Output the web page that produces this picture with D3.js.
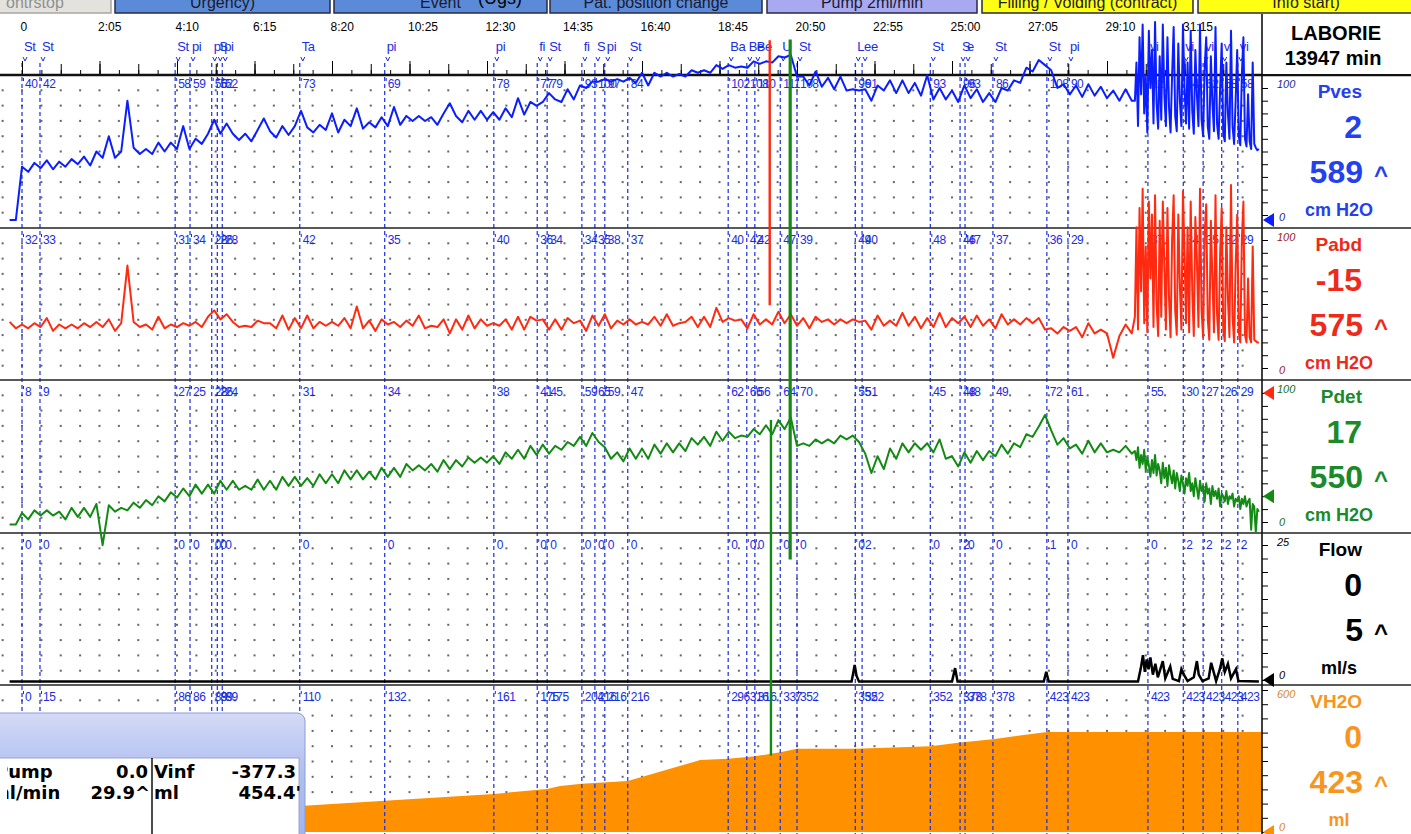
<!DOCTYPE html>
<html>
<head>
<meta charset="utf-8">
<script src="https://cdn.jsdelivr.net/npm/d3@7"></script>
<style>
  body { margin: 0; background: #fff; }
  svg { display: block; font-family: "Liberation Sans", Arial, sans-serif; }
</style>
</head>
<body>
<script>
// time axis (seconds)
const timeTickValues = [0, 125, 250, 375, 500, 625, 750, 875, 1000, 1125, 1250, 1375, 1500, 1625, 1750, 1875];
const timeTickLabels = ['0', '2:05', '4:10', '6:15', '8:20', '10:25', '12:30', '14:35', '16:40', '18:45', '20:50', '22:55', '25:00', '27:05', '29:10', '31:15'];

// events
const eventTimes = [0, 29, 247, 271, 306, 315, 323, 448, 585, 761, 831, 847, 903, 924, 940, 977, 1139, 1169, 1182, 1223, 1250, 1344, 1355, 1465, 1513, 1521, 1566, 1653, 1687, 1816, 1873, 1905, 1935, 1961];
const eventNames = ['St', 'St', 'St', 'pi', 'pi', 'S', 'pi', 'Ta', 'pi', 'pi', 'fi', 'St', 'fi', 'S', 'pi', 'St', 'Ba', 'Be', 'Be', 'U', 'St', 'L', 'ee', 'St', 'S', 'e', 'St', 'St', 'pi', 'vi', 'vi', 'vi', 'vi', 'vi'];
const pvesAtEvent = [40, 42, 58, 59, 56, 52, 52, 73, 69, 78, 77, 79, 93, 100, 97, 84, 102, 108, 110, 111, 108, 96, 91, 93, 96, 93, 86, 108, 90, 92, 64, 62, 58, 58];
const pabdAtEvent = [32, 33, 31, 34, 28, 26, 28, 42, 35, 40, 36, 34, 34, 35, 38, 37, 40, 42, 42, 47, 39, 49, 40, 48, 46, 47, 37, 36, 29, 37, 34, 35, 32, 29];
const pdetAtEvent = [8, 9, 27, 25, 28, 26, 24, 31, 34, 38, 41, 45, 59, 65, 59, 47, 62, 66, 56, 64, 70, 55, 51, 45, 48, 48, 49, 72, 61, 55, 30, 27, 26, 29];
const flowAtEvent = [0, 0, 0, 0, 0, 0, 0, 0, 0, 0, 0, 0, 0, 0, 0, 0, 0, 0, 0, 0, 0, 0, 2, 0, 2, 0, 0, 1, 0, 0, 2, 2, 2, 2];
const volAtEvent = [0, 15, 86, 86, 89, 89, 89, 110, 132, 161, 175, 175, 204, 216, 216, 216, 296, 316, 316, 337, 352, 352, 352, 352, 378, 378, 378, 423, 423, 423, 423, 423, 423, 423];

// pressure samples: every 10 s from -20 s, then every 2.5 s from 1795 s
const mainStart = -20, mainStep = 10;
const burstStart = 1795, burstStep = 2.5;

const pvesMain = [
  -4, -4, 38, 34, 41, 37, 43, 36, 42, 38,
  44, 40, 46, 39, 50, 45, 62, 45, 50, 90,
  53, 48, 52, 48, 57, 50, 57, 52, 70, 52,
  60, 56, 64, 75, 64, 72, 64, 59, 64, 58,
  67, 76, 66, 61, 70, 63, 70, 82, 69, 65,
  71, 67, 80, 65, 75, 70, 84, 68, 73, 69,
  77, 70, 85, 71, 78, 74, 78, 74, 77, 71,
  80, 88, 78, 73, 82, 75, 82, 75, 81, 75,
  84, 77, 92, 79, 89, 86, 89, 96, 91, 89,
  99, 91, 102, 100, 105, 105, 107, 105, 107, 105,
  108, 104, 112, 102, 112, 109, 112, 109, 111, 109,
  114, 112, 114, 112, 118, 115, 118, 116, 117, 116,
  121, 119, 121, 120, 125, 124, 126, 109, 109, 102,
  113, 101, 108, 99, 109, 98, 99, 98, 99, 90,
  102, 98, 106, 96, 106, 96, 104, 94, 110, 91,
  100, 91, 98, 89, 102, 92, 99, 89, 96, 89,
  100, 98, 106, 104, 116, 113, 122, 118, 114, 100,
  103, 95, 102, 93, 103, 94, 101, 92, 98, 90,
  99, 90
];
const pvesBurst = [
  90, 120, 70, 140, 95, 150, 80, 110, 65, 145,
  100, 130, 72, 152, 88, 68, 125, 75, 150, 95,
  70, 140, 85, 65, 110, 148, 78, 66, 135, 90,
  70, 150, 100, 72, 120, 68, 145, 82, 64, 130,
  95, 70, 150, 75, 62, 115, 140, 70, 60, 125,
  88, 66, 148, 72, 60, 100, 135, 64, 58, 120,
  80, 60, 145, 70, 56, 90, 130, 62, 55, 110,
  140, 60, 54, 95, 58, 52, 120, 56, 53, 51,
  52
];

const pabdMain = [
  36, 31, 34, 31, 35, 32, 39, 29, 34, 31,
  34, 31, 35, 32, 36, 32, 38, 29, 35, 80,
  36, 32, 34, 30, 40, 31, 34, 32, 35, 33,
  36, 32, 40, 45, 38, 42, 36, 32, 33, 32,
  37, 35, 35, 31, 41, 30, 39, 31, 41, 31,
  36, 33, 36, 33, 39, 31, 48, 31, 37, 29,
  38, 34, 36, 32, 37, 33, 41, 31, 33, 32,
  38, 27, 38, 30, 41, 31, 38, 33, 35, 33,
  38, 30, 40, 30, 40, 37, 38, 30, 38, 30,
  39, 35, 37, 29, 41, 33, 42, 31, 37, 34,
  38, 34, 36, 34, 40, 33, 42, 33, 35, 36,
  40, 32, 40, 32, 47, 36, 39, 37, 38, 31,
  42, 34, 38, 34, 44, 35, 42, 33, 39, 31,
  40, 36, 38, 34, 38, 35, 38, 36, 37, 30,
  41, 33, 37, 33, 43, 33, 40, 31, 39, 32,
  43, 32, 39, 35, 40, 32, 41, 33, 38, 31,
  42, 34, 38, 34, 39, 35, 39, 30, 31, 27,
  32, 29, 32, 24, 35, 27, 30, 27, 8, 25,
  34, 27
];
const pabdBurst = [
  40, 110, 30, 125, 60, 140, 35, 95, 28, 130,
  70, 120, 32, 135, 50, 25, 115, 40, 130, 80,
  30, 125, 55, 24, 100, 135, 45, 26, 120, 65,
  30, 138, 90, 35, 110, 28, 130, 60, 25, 118,
  85, 32, 140, 45, 24, 105, 128, 38, 22, 115,
  70, 28, 135, 42, 22, 90, 125, 30, 21, 110,
  55, 24, 143, 40, 20, 80, 120, 28, 20, 100,
  130, 26, 20, 70, 24, 20, 95, 22, 21, 20,
  20
];

const pdetMain = [
  -2, -2, 7, 2, 9, 5, 9, 5, 8, 2,
  11, 4, 11, 4, 14, -18, 13, 8, 11, 9,
  15, 11, 17, 13, 20, 16, 23, 19, 26, 20,
  29, 22, 29, 22, 32, 25, 32, 25, 28, 25,
  33, 25, 32, 25, 35, 28, 35, 28, 34, 28,
  37, 30, 37, 30, 40, 33, 40, 33, 39, 33,
  42, 35, 42, 35, 45, 40, 44, 40, 45, 39,
  48, 41, 48, 43, 50, 46, 50, 46, 51, 45,
  54, 49, 56, 49, 59, 52, 60, 53, 59, 56,
  62, 59, 66, 59, 69, 62, 58, 49, 54, 47,
  57, 49, 57, 49, 60, 53, 61, 54, 61, 55,
  65, 60, 66, 59, 70, 63, 70, 65, 67, 66,
  72, 68, 75, 68, 79, 72, 81, 59, 61, 59,
  64, 61, 64, 61, 67, 64, 67, 62, 53, 38,
  51, 41, 57, 49, 61, 54, 61, 56, 61, 54,
  64, 49, 51, 43, 54, 46, 55, 48, 55, 51,
  60, 53, 61, 58, 68, 66, 74, 83, 71, 60,
  65, 57, 60, 53, 63, 54, 61, 54, 56, 54,
  59, 53
];
const pdetBurst = [
  55, 48, 58, 42, 52, 45, 56, 40, 50, 44,
  35, 48, 38, 52, 36, 45, 40, 30, 46, 34,
  42, 28, 44, 36, 30, 40, 26, 38, 32, 24,
  36, 30, 22, 34, 28, 38, 24, 30, 20, 34,
  26, 18, 32, 24, 28, 16, 30, 22, 26, 14,
  28, 20, 24, 18, 26, 12, 22, 20, 16, 24,
  14, 20, 18, 22, 12, 18, 16, 20, 10, 18,
  14, 20, 12, 16, 18, -6, 14, 12, -8, 10,
  8
];

// vertical artefacts
const spikeChannels = ['pabd', 'pdet', 'pdet'];
const spikeTimes = [1206, 1208, 1239];
const spikeHigh = [256, 79, 374];
const spikeLow = [49, -181, -29];

// flow (ml/s)
const flowTimes = [-20, 1338, 1341, 1343, 1346, 1350, 1500, 1505, 1509, 1648, 1652, 1656, 1800, 1805, 1808, 1811, 1814, 1817, 1820, 1824, 1828, 1832, 1840, 1844, 1852, 1856, 1866, 1870, 1874, 1880, 1890, 1895, 1898, 1904, 1914, 1918, 1922, 1926, 1932, 1936, 1940, 1945, 1950, 1958, 1962, 1995];
const flowValues = [-0.3, -0.3, 1.5, 2.8, 0.8, -0.3, -0.3, 2.2, -0.3, -0.3, 1.5, -0.3, -0.3, 2.5, 4.6, 1.5, 3.8, 2.0, 4.2, 1.0, 3.0, 0.5, 3.5, 0.3, 2.5, 0.2, -0.2, 2.0, 1.0, -0.2, 0.5, 3.5, 1.0, -0.2, 0.3, 3.2, 1.5, -0.2, 2.0, 4.0, 1.5, 3.0, 0.3, 2.0, -0.2, -0.3];

// infused volume (ml)
const volTimes = [-20, 0, 29, 247, 306, 448, 585, 761, 847, 868, 903, 977, 1094, 1139, 1182, 1223, 1250, 1344, 1465, 1513, 1566, 1653, 2000];
const volValues = [0, 0, 15, 86, 89, 110, 132, 161, 182, 194, 204, 216, 304, 310, 320, 337, 352, 352, 362, 378, 392, 423, 423];

// right-hand channel panel
const channelNames = ['Pves', 'Pabd', 'Pdet', 'Flow', 'VH2O'];
const channelNow = ['2', '-15', '17', '0', '0'];
const channelMax = ['589', '575', '550', '5', '423'];
const channelUnits = ['cm H2O', 'cm H2O', 'cm H2O', 'ml/s', 'ml'];
const channelTop = [100, 100, 100, 25, 600];

const buttonLabels = ['ontrstop', 'Urgency)', 'Event', 'Pat. position change', 'Pump 2ml/min', 'Filling / Voiding (contract)', 'Info start)'];

const render = () => {
  const width = 1411;
  const height = 834;
  const plotRight = 1262;
  const panelTops = [75, 228, 380, 533, 685];
  const colors = ['#0a1eff', '#ff2a10', '#138a13', '#000000', '#ff9000'];
  const textColors = ['#2540ee', '#ee2a1a', '#1b8a2b', '#000000', '#f7961e'];
  const scaleColors = ['#1a2a9a', '#a02020', '#207020', '#000000', '#d88a20'];
  const eventColor = '#1a2de0';

  const svg = d3.select('body').append('svg')
    .attr('width', width)
    .attr('height', height);

  const defs = svg.append('defs');
  const grad = defs.append('linearGradient').attr('id', 'barGrad')
    .attr('x1', 0).attr('y1', 0).attr('x2', 0).attr('y2', 1);
  grad.append('stop').attr('offset', '0%').attr('stop-color', '#d4daf6');
  grad.append('stop').attr('offset', '45%').attr('stop-color', '#aebef0');
  grad.append('stop').attr('offset', '100%').attr('stop-color', '#9db2ec');
  defs.append('clipPath').attr('id', 'boxClip')
    .append('rect').attr('x', 7).attr('y', 700).attr('width', 300).attr('height', 140);

  const x = d3.scaleLinear().domain([-35.5, 2000]).range([0, plotRight]);
  const yScales = [
    d3.scaleLinear().domain([0, 100]).range([215, 88]),
    d3.scaleLinear().domain([0, 100]).range([368, 240]),
    d3.scaleLinear().domain([0, 100]).range([522, 393]),
    d3.scaleLinear().domain([0, 25]).range([680, 545]),
    d3.scaleLinear().domain([0, 600]).range([832, 690])
  ];

  // buttons
  const buttonX = [-4, 115, 334, 550, 767, 982, 1198];
  const buttonW = [115, 215, 213, 212, 210, 211, 216];
  const buttonFill = ['#e4e2dc', '#5b8bd8', '#5b8bd8', '#5b8bd8', '#a9a9f2', '#ffff14', '#ffff14'];
  const buttons = svg.append('g');
  buttons.selectAll('rect').data(buttonLabels).enter().append('rect')
    .attr('x', (d, i) => buttonX[i])
    .attr('y', -10)
    .attr('width', (d, i) => buttonW[i])
    .attr('height', 23)
    .attr('fill', (d, i) => buttonFill[i])
    .attr('stroke', (d, i) => i === 0 ? '#a8a6a0' : '#2a2a40')
    .attr('stroke-width', 1.5);
  buttons.selectAll('text').data(buttonLabels).enter().append('text')
    .attr('x', (d, i) => i === 0 ? 6 : buttonX[i] + buttonW[i] / 2)
    .attr('y', 8)
    .attr('text-anchor', (d, i) => i === 0 ? 'start' : 'middle')
    .attr('font-size', 16)
    .attr('fill', (d, i) => i === 0 ? '#909090' : '#1a1a30')
    .text(d => d);
  svg.append('text')
    .attr('x', 478).attr('y', 4)
    .attr('font-size', 18)
    .text('(Ugs)');

  // dotted grid
  const dotTimes = d3.range(-31.25, 2000, 31.25);
  const grid = svg.append('g').attr('fill', '#666');
  panelTops.forEach(top => {
    d3.range(1, 10).forEach(k => {
      grid.selectAll(null).data(dotTimes).enter().append('rect')
        .attr('x', d => x(d) - 1)
        .attr('y', top + k * 15.3 - 1)
        .attr('width', 2)
        .attr('height', 2);
    });
  });

  // infused volume
  const volData = volTimes.map((t, i) => [t, volValues[i]]);
  svg.append('path')
    .datum(volData)
    .attr('fill', colors[4])
    .attr('d', d3.area().x(d => x(d[0])).y0(yScales[4](0)).y1(d => yScales[4](d[1])));

  // event lines
  const events = eventTimes.map((t, i) => ({
    t,
    name: eventNames[i],
    values: [pvesAtEvent[i], pabdAtEvent[i], pdetAtEvent[i], flowAtEvent[i], volAtEvent[i]]
  }));
  const ev = svg.append('g');
  ev.selectAll('line').data(events).enter().append('line')
    .attr('x1', d => x(d.t)).attr('x2', d => x(d.t))
    .attr('y1', 63).attr('y2', height)
    .attr('stroke', eventColor)
    .attr('stroke-width', 1.2)
    .attr('stroke-dasharray', '4,3');
  ev.selectAll('text.name').data(events).enter().append('text')
    .attr('class', 'name')
    .attr('x', d => x(d.t) + 2)
    .attr('y', 51)
    .attr('font-size', 13)
    .attr('letter-spacing', -0.4)
    .attr('fill', eventColor)
    .text(d => d.name);
  ev.selectAll('path').data(events).enter().append('path')
    .attr('d', d => `M${x(d.t) + 1},57 l2,4 l2,-4`)
    .attr('fill', 'none')
    .attr('stroke', eventColor)
    .attr('stroke-width', 1);
  panelTops.forEach((top, p) => {
    const rowY = p === 0 ? top + 13 : top + 16;
    ev.selectAll(null).data(events).enter().append('text')
      .attr('x', d => x(d.t) + 3)
      .attr('y', rowY)
      .attr('font-size', 12)
      .attr('letter-spacing', -0.5)
      .attr('fill', eventColor)
      .text(d => d.values[p]);
    ev.selectAll(null).data(events).enter().append('line')
      .attr('x1', d => x(d.t) + 1.5).attr('x2', d => x(d.t) + 1.5)
      .attr('y1', rowY - 10).attr('y2', rowY - 7)
      .attr('stroke', eventColor);
  });

  // time axis
  const minorAxis = d3.axisTop(x)
    .tickValues(dotTimes.filter(t => t > 0))
    .tickSize(5)
    .tickFormat('');
  svg.append('g')
    .attr('transform', 'translate(0,75)')
    .call(minorAxis)
    .call(g => g.select('.domain').remove());
  const midAxis = d3.axisTop(x)
    .tickValues(d3.range(62.5, 2000, 62.5))
    .tickSize(11)
    .tickFormat('');
  svg.append('g')
    .attr('transform', 'translate(0,75)')
    .call(midAxis)
    .call(g => g.select('.domain').remove());
  const majorAxis = d3.axisTop(x)
    .tickValues(timeTickValues)
    .tickSize(14)
    .tickFormat((d, i) => timeTickLabels[i]);
  svg.append('g')
    .attr('transform', 'translate(0,75)')
    .call(majorAxis)
    .call(g => g.select('.domain').remove())
    .call(g => g.selectAll('text')
      .attr('y', -44)
      .attr('dx', -2)
      .attr('text-anchor', 'start')
      .attr('font-size', 12)
      .attr('font-family', '"Liberation Sans", Arial, sans-serif')
      .attr('fill', '#000'));

  // separators
  svg.append('line')
    .attr('x1', 0).attr('x2', width).attr('y1', 75).attr('y2', 75)
    .attr('stroke', '#111').attr('stroke-width', 2.5);
  svg.selectAll('line.sep').data(panelTops.slice(1)).enter().append('line')
    .attr('class', 'sep')
    .attr('x1', 0).attr('x2', width)
    .attr('y1', d => d).attr('y2', d => d)
    .attr('stroke', '#222').attr('stroke-width', 1.6);

  // traces
  const toPoints = (main, burst) => main.map((v, i) => [mainStart + i * mainStep, v])
    .concat(burst.map((v, i) => [burstStart + i * burstStep, v]));
  const series = [
    toPoints(pvesMain, pvesBurst),
    toPoints(pabdMain, pabdBurst),
    toPoints(pdetMain, pdetBurst)
  ];
  series.forEach((pts, p) => {
    svg.append('path')
      .datum(pts)
      .attr('fill', 'none')
      .attr('stroke', colors[p])
      .attr('stroke-width', 2)
      .attr('stroke-linejoin', 'round')
      .attr('d', d3.line().x(d => x(d[0])).y(d => yScales[p](d[1])));
  });
  const flowData = flowTimes.map((t, i) => [t, flowValues[i]]);
  svg.append('path')
    .datum(flowData)
    .attr('fill', 'none')
    .attr('stroke', colors[3])
    .attr('stroke-width', 2.5)
    .attr('d', d3.line().x(d => x(d[0])).y(d => yScales[3](d[1])));

  const spikes = spikeTimes.map((t, i) => ({ t, ch: spikeChannels[i], hi: spikeHigh[i], lo: spikeLow[i] }));
  svg.selectAll('line.spike').data(spikes).enter().append('line')
    .attr('class', 'spike')
    .attr('x1', d => x(d.t)).attr('x2', d => x(d.t))
    .attr('y1', d => yScales[d.ch === 'pabd' ? 1 : 2](d.hi))
    .attr('y2', d => yScales[d.ch === 'pabd' ? 1 : 2](d.lo))
    .attr('stroke', d => d.ch === 'pabd' ? colors[1] : colors[2])
    .attr('stroke-width', (d, i) => i === 2 ? 3.2 : 2.4);

  // right panel
  const rp = svg.append('g');
  rp.append('rect')
    .attr('x', plotRight).attr('y', 14).attr('width', width - plotRight).attr('height', 60)
    .attr('fill', '#fff');
  rp.append('line')
    .attr('x1', plotRight).attr('x2', plotRight).attr('y1', 14).attr('y2', height)
    .attr('stroke', '#111').attr('stroke-width', 1.6);
  rp.append('text')
    .attr('x', 1336).attr('y', 40)
    .attr('text-anchor', 'middle')
    .attr('font-size', 20).attr('font-weight', 'bold')
    .text('LABORIE');
  rp.append('text')
    .attr('x', 1333).attr('y', 65)
    .attr('text-anchor', 'middle')
    .attr('font-size', 20).attr('font-weight', 'bold')
    .text('13947 min');

  yScales.forEach((scale, p) => {
    const top = panelTops[p];
    const dom = scale.domain();
    rp.append('g')
      .attr('transform', `translate(${plotRight},0)`)
      .call(d3.axisRight(scale).tickValues(d3.range(0, dom[1] + 0.01, dom[1] / 10)).tickSize(6).tickFormat(''))
      .call(g => g.select('.domain').remove());
    rp.append('text')
      .attr('x', 1277).attr('y', top + 13)
      .attr('font-size', 11).attr('font-style', 'italic')
      .attr('fill', scaleColors[p])
      .text(channelTop[p]);
    rp.append('text')
      .attr('x', 1279).attr('y', top + 146)
      .attr('font-size', 11).attr('font-style', 'italic')
      .attr('fill', scaleColors[p])
      .text('0');
    rp.append('text')
      .attr('x', 1362).attr('y', top + 23)
      .attr('text-anchor', 'end')
      .attr('font-size', 19).attr('font-weight', 'bold')
      .attr('fill', textColors[p])
      .text(channelNames[p]);
    rp.append('text')
      .attr('x', 1362).attr('y', top + 63)
      .attr('text-anchor', 'end')
      .attr('font-size', 32).attr('font-weight', 'bold')
      .attr('fill', p === 3 ? '#000' : textColors[p])
      .text(channelNow[p]);
    rp.append('text')
      .attr('x', 1363).attr('y', top + 108)
      .attr('text-anchor', 'end')
      .attr('font-size', 32).attr('font-weight', 'bold')
      .attr('fill', textColors[p])
      .text(channelMax[p]);
    rp.append('text')
      .attr('x', 1374).attr('y', top + 108)
      .attr('font-size', 24).attr('font-weight', 'bold')
      .attr('fill', textColors[p])
      .text('^');
    rp.append('text')
      .attr('x', 1339).attr('y', top + 141)
      .attr('text-anchor', 'middle')
      .attr('font-size', 18).attr('font-weight', 'bold')
      .attr('fill', textColors[p])
      .text(channelUnits[p]);
  });

  const markerY = [yScales[0](-4), yScales[2](100), yScales[2](20), yScales[3](0), yScales[4](0)];
  const markerColor = [colors[0], colors[1], colors[2], colors[3], colors[4]];
  rp.selectAll('path.marker').data(markerY).enter().append('path')
    .attr('class', 'marker')
    .attr('d', d => `M${plotRight + 1},${d} l11,-7 l0,14 z`)
    .attr('fill', (d, i) => markerColor[i]);

  // pump box
  const box = svg.append('g');
  box.append('rect')
    .attr('x', -20).attr('y', 713).attr('width', 325).attr('height', 140).attr('rx', 8)
    .attr('fill', 'url(#barGrad)')
    .attr('stroke', '#8c9cd4');
  box.append('rect')
    .attr('x', -2).attr('y', 758).attr('width', 301).attr('height', 80)
    .attr('fill', '#fff')
    .attr('stroke', '#9aa6c8');
  box.append('line')
    .attr('x1', 152).attr('x2', 152).attr('y1', 758).attr('y2', height)
    .attr('stroke', '#111').attr('stroke-width', 1.5);
  const boxText = box.append('g')
    .attr('clip-path', 'url(#boxClip)')
    .attr('font-family', '"DejaVu Sans", sans-serif')
    .attr('font-weight', 'bold')
    .attr('font-size', 18);
  const boxCells = [
    ['Pump', -5, 778, 'start'], ['0.0', 148, 778, 'end'], ['Vinf', 154, 778, 'start'], ['-377.3', 296, 778, 'end'],
    ['ml/min', -9, 799, 'start'], ['29.9^', 150, 799, 'end'], ['ml', 154, 799, 'start'], ["454.4'", 301, 799, 'end']
  ];
  boxText.selectAll('text').data(boxCells).enter().append('text')
    .attr('x', d => d[1]).attr('y', d => d[2])
    .attr('text-anchor', d => d[3])
    .text(d => d[0]);
};

render();
</script>
</body>
</html>
